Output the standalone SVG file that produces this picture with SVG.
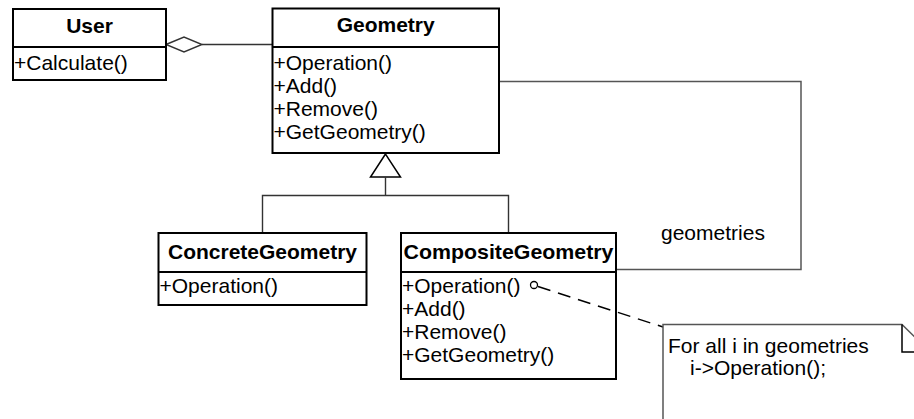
<svg xmlns="http://www.w3.org/2000/svg" width="914" height="419" viewBox="0 0 914 419">
<style>
.box{fill:#fff;stroke:#000;stroke-width:2}
.sep{stroke:#000;stroke-width:2}
.t{font-family:"Liberation Sans",Arial,sans-serif;font-size:21px;font-weight:bold;text-anchor:middle;fill:#000}
.a{font-family:"Liberation Sans",Arial,sans-serif;font-size:21px;fill:#000}
.c{fill:none;stroke:#333;stroke-width:1.4}
.g{fill:none;stroke:#555;stroke-width:1.5}
</style>
<rect width="914" height="419" fill="#fff"/>
<g id="connectors">
  <line class="c" x1="202" y1="44.5" x2="272" y2="44.5"/>
  <polygon points="166,44.5 184,37 202,44.5 184,52" fill="#fff" stroke="#333" stroke-width="1.4"/>
  <polyline class="g" points="499,81.5 801,81.5 801,269.5 616,269.5"/>
  <polygon points="385.5,154 370.5,177 400.5,177" fill="#fff" stroke="#000" stroke-width="1.5"/>
  <line class="c" x1="385.5" y1="177" x2="385.5" y2="195.5"/>
  <polyline class="c" points="262.5,233 262.5,195.5 508.5,195.5 508.5,233"/>
  <text class="a" x="661" y="240" style="font-weight:normal">geometries</text>
</g>
<g id="User">
  <rect class="box" x="13" y="9" width="153" height="71"/>
  <line class="sep" x1="13" y1="47" x2="166" y2="47"/>
  <text class="t" x="89.5" y="33">User</text>
  <text class="a" x="14" y="70">+Calculate()</text>
</g>
<g id="Geometry">
  <rect class="box" x="272.5" y="8.5" width="226.5" height="144.5"/>
  <line class="sep" x1="272.5" y1="47" x2="499" y2="47"/>
  <text class="t" x="385.7" y="32">Geometry</text>
  <text class="a" x="273.5" y="70">+Operation()</text>
  <text class="a" x="273.5" y="93">+Add()</text>
  <text class="a" x="273.5" y="116">+Remove()</text>
  <text class="a" x="273.5" y="139">+GetGeometry()</text>
</g>
<g id="ConcreteGeometry">
  <rect class="box" x="158.5" y="233" width="208" height="72"/>
  <line class="sep" x1="158.5" y1="272" x2="366.5" y2="272"/>
  <text class="t" x="262.5" y="259">ConcreteGeometry</text>
  <text class="a" x="159.5" y="293">+Operation()</text>
</g>
<g id="CompositeGeometry">
  <rect class="box" x="401" y="233" width="215" height="146"/>
  <line class="sep" x1="401" y1="272" x2="616" y2="272"/>
  <text class="t" x="508.5" y="259" textLength="210" lengthAdjust="spacingAndGlyphs">CompositeGeometry</text>
  <text class="a" x="402" y="293">+Operation()</text>
  <text class="a" x="402" y="316">+Add()</text>
  <text class="a" x="402" y="339">+Remove()</text>
  <text class="a" x="402" y="362">+GetGeometry()</text>
</g>
<g id="note">
  <circle cx="534" cy="285" r="3.5" fill="#fff" stroke="#000" stroke-width="1.3"/>
  <line x1="538" y1="286.5" x2="663" y2="327" stroke="#000" stroke-width="1.5" stroke-dasharray="13,8"/>
  <path d="M663,430 L663,324.5 L902,324.5 L930,352 L930,430" fill="#fff" stroke="#555" stroke-width="1.5"/>
  <polyline points="902,324.5 902,352 930,352" fill="none" stroke="#000" stroke-width="1.5"/>
  <text class="a" x="668" y="353">For all i in geometries</text>
  <text class="a" x="690" y="375">i-&gt;Operation();</text>
</g>
</svg>
